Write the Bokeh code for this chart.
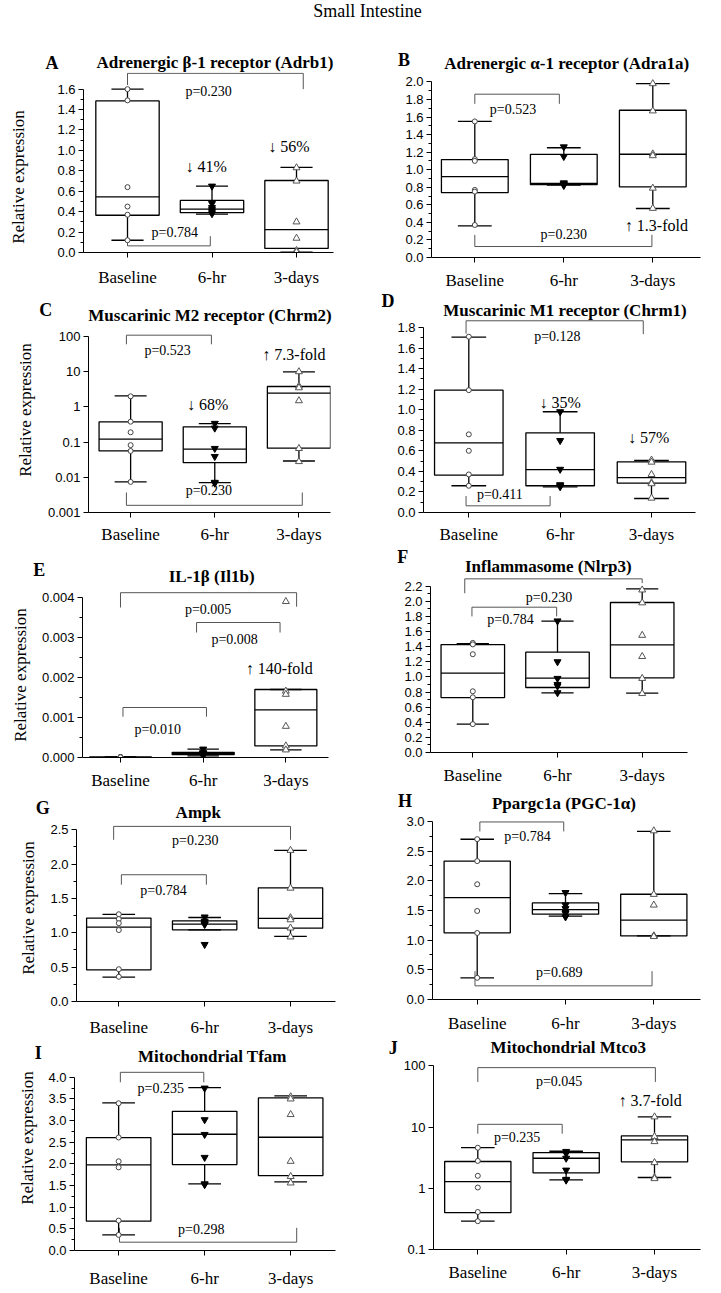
from bokeh.plotting import figure
from bokeh.models import Range1d, FixedTicker, Div, PrintfTickFormatter, CustomJSTickFormatter
from bokeh.layouts import column, row
from bokeh.core.properties import value
from bokeh.embed import file_html
from bokeh.resources import INLINE

GROUPS = ["Baseline", "6-hr", "3-days"]
XPOS = [1, 2, 3]

# ---------------- data ----------------
# A  Adrb1
A_baseline = [1.60, 1.49, 0.64, 0.45, 0.37, 0.12]
A_6hr = [0.65, 0.48, 0.44, 0.42, 0.40, 0.38]
A_3days = [0.83, 0.70, 0.30, 0.14, 0.02, 0.005]
A_lo = [0.12, 0.375, 0.003]
A_q1 = [0.365, 0.39, 0.04]
A_med = [0.545, 0.425, 0.225]
A_q3 = [1.485, 0.51, 0.705]
A_hi = [1.60, 0.65, 0.833]
A_yticks = [0.0, 0.2, 0.4, 0.6, 0.8, 1.0, 1.2, 1.4, 1.6]

# B  Adra1a
B_baseline = [1.55, 1.12, 1.10, 0.77, 0.75, 0.37]
B_6hr = [1.26, 1.15, 0.85, 0.84, 0.83, 0.82]
B_3days = [1.98, 1.67, 1.18, 1.16, 0.79, 0.56]
B_lo = [0.36, 0.825, 0.558]
B_q1 = [0.74, 0.83, 0.805]
B_med = [0.92, 0.845, 1.176]
B_q3 = [1.115, 1.175, 1.677]
B_hi = [1.55, 1.25, 1.98]
B_yticks = [0.0, 0.2, 0.4, 0.6, 0.8, 1.0, 1.2, 1.4, 1.6, 1.8, 2.0]

# C  Chrm2 (log)
C_baseline = [2.0, 0.38, 0.19, 0.082, 0.056, 0.0074]
C_6hr = [0.34, 0.25, 0.066, 0.039, 0.0072, 0.0068]
C_3days = [10.0, 3.9, 3.5, 1.5, 0.066, 0.028]
C_lo = [0.0074, 0.0071, 0.029]
C_q1 = [0.056, 0.026, 0.067]
C_med = [0.121, 0.063, 2.45]
C_q3 = [0.377, 0.272, 3.8]
C_hi = [2.06, 0.337, 9.9]
C_yticks = [0.001, 0.01, 0.1, 1, 10, 100]

# D  Chrm1
D_baseline = [1.71, 1.19, 0.76, 0.60, 0.37, 0.26]
D_6hr = [0.98, 0.70, 0.42, 0.27, 0.26, 0.25]
D_3days = [0.51, 0.49, 0.37, 0.29, 0.28, 0.14]
D_lo = [0.26, 0.25, 0.136]
D_q1 = [0.363, 0.26, 0.285]
D_med = [0.678, 0.418, 0.34]
D_q3 = [1.19, 0.775, 0.493]
D_hi = [1.706, 0.98, 0.506]
D_yticks = [0.0, 0.2, 0.4, 0.6, 0.8, 1.0, 1.2, 1.4, 1.6, 1.8]

# E  Il1b
E_baseline = [0.000012, 0.000010, 0.000009, 0.000007, 0.000006, 0.000005]
E_6hr = [0.00021, 0.00012, 0.00011, 0.00010, 0.00009, 0.00004]
E_3days = [0.0039, 0.00166, 0.00158, 0.00078, 0.00029, 0.00019]
E_lo = [0.000005, 0.00004, 0.00019]
E_q1 = [0.000006, 0.00007, 0.00029]
E_med = [0.000008, 0.0001, 0.00119]
E_q3 = [0.00001, 0.00013, 0.0017]
E_hi = [0.000012, 0.00021, 0.0017]
E_yticks = [0.0, 0.001, 0.002, 0.003, 0.004]

# F  Nlrp3
F_baseline = [1.45, 1.43, 1.30, 0.81, 0.73, 0.375]
F_6hr = [1.74, 1.20, 0.98, 0.90, 0.88, 0.79]
F_3days = [2.15, 1.98, 1.55, 1.27, 0.98, 0.78]
F_lo = [0.375, 0.79, 0.785]
F_q1 = [0.727, 0.86, 0.988]
F_med = [1.05, 0.983, 1.424]
F_q3 = [1.428, 1.327, 1.984]
F_hi = [1.44, 1.737, 2.165]
F_yticks = [0.0, 0.2, 0.4, 0.6, 0.8, 1.0, 1.2, 1.4, 1.6, 1.8, 2.0, 2.2]

# G  Ampk
G_baseline = [1.27, 1.20, 1.14, 1.04, 0.47, 0.36]
G_6hr = [1.23, 1.17, 1.15, 1.13, 1.12, 0.83]
G_3days = [2.20, 1.65, 1.22, 1.19, 1.07, 0.94]
G_lo = [0.354, 1.044, 0.947]
G_q1 = [0.461, 1.044, 1.068]
G_med = [1.083, 1.126, 1.209]
G_q3 = [1.214, 1.175, 1.655]
G_hi = [1.267, 1.223, 2.2]
G_yticks = [0.0, 0.5, 1.0, 1.5, 2.0, 2.5]

# H  Ppargc1a
H_baseline = [2.70, 2.33, 1.94, 1.49, 1.12, 0.365]
H_6hr = [1.80, 1.59, 1.53, 1.48, 1.45, 1.39]
H_3days = [2.84, 1.77, 1.59, 1.07, 1.07, 1.06]
H_lo = [0.365, 1.402, 1.071]
H_q1 = [1.122, 1.436, 1.071]
H_med = [1.716, 1.514, 1.335]
H_q3 = [2.328, 1.626, 1.772]
H_hi = [2.698, 1.784, 2.832]
H_yticks = [0.0, 0.5, 1.0, 1.5, 2.0, 2.5, 3.0]

# I  Tfam
I_baseline = [3.40, 2.61, 2.06, 1.92, 0.69, 0.36]
I_6hr = [3.75, 3.02, 2.68, 2.15, 1.54, 1.52]
I_3days = [3.55, 3.50, 3.14, 2.06, 1.71, 1.56]
I_lo = [0.362, 1.538, 1.585]
I_q1 = [0.677, 1.985, 1.731]
I_med = [1.977, 2.685, 2.615]
I_q3 = [2.608, 3.215, 3.523]
I_hi = [3.408, 3.76, 3.57]
I_yticks = [0.0, 0.5, 1.0, 1.5, 2.0, 2.5, 3.0, 3.5, 4.0]

# J  Mtco3 (log)
J_baseline = [4.6, 2.8, 1.6, 1.03, 0.41, 0.29]
J_6hr = [4.0, 3.7, 3.1, 1.98, 1.4, 1.36]
J_3days = [14.7, 7.0, 5.8, 2.63, 1.5, 1.44]
J_lo = [0.29, 1.37, 1.5]
J_q1 = [0.40, 1.79, 2.7]
J_med = [1.29, 3.1, 6.17]
J_q3 = [2.74, 3.84, 7.18]
J_hi = [4.63, 4.03, 14.7]
J_yticks = [0.1, 1, 10, 100]

# ---------------- styling / layout ----------------
SERIF = "Liberation Serif"
SANS = "Liberation Sans"
BOX_W = 0.75
CAP_W = 0.38
LW = 1.3
BRACKET_COLOR = "#555555"
COL_LEFT = {"L": 8, "R": 360}      # page columns (absolute px)
COL_W = {"L": 352, "R": 353}
FONT_CSS = "font-family:'Liberation Serif';color:#000;white-space:nowrap;"


def hspan(text, cx, cy, size, box_w, box_h, weight="normal", lh=None):
    lh = lh or size
    w = 2 * min(cx, box_w - cx)
    top = max(0.0, min(cy - lh / 2.0, box_h - lh))
    return ('<div style="position:absolute;left:%.1fpx;top:%.1fpx;width:%.1fpx;height:%dpx;'
            'line-height:%dpx;text-align:center;font-size:%dpx;font-weight:%s;%s">%s</div>'
            % (cx - w / 2.0, top, w, lh, lh, size, weight, FONT_CSS, text))


def vspan(text, cx, cy, size):
    return ('<span style="position:absolute;left:%.1fpx;top:%.1fpx;'
            'transform:translate(-50%%,-50%%) rotate(-90deg);line-height:%dpx;'
            'font-size:%dpx;%s">%s</span>' % (cx, cy, size, size, FONT_CSS, text))


def box_div(w, h, inner):
    return Div(text='<div style="position:relative;width:%dpx;height:%dpx;">%s</div>'
               % (w, h, "".join(inner)), width=w, height=h, margin=0)


def make_fig(w, h, mb, xr, yr, log, yticks, fmt, xstand, pts, lo, q1, med, q3, hi,
             brackets, texts):
    p = figure(width=w, height=h, min_border_left=mb[0], min_border_right=mb[1],
               min_border_top=mb[2], min_border_bottom=mb[3],
               x_range=Range1d(*xr), y_range=Range1d(*yr),
               y_axis_type="log" if log else "linear",
               output_backend="svg", toolbar_location=None, margin=0)
    p.outline_line_color = None
    p.grid.visible = False
    p.background_fill_color = None
    p.border_fill_color = None

    xa = p.xaxis[0]
    xa.ticker = FixedTicker(ticks=XPOS, minor_ticks=[])
    xa.major_label_overrides = {x: g for x, g in zip(XPOS, GROUPS)}
    xa.major_label_text_font = SERIF
    xa.major_label_text_font_size = "17px"
    xa.major_label_text_color = "black"
    xa.major_tick_in = 0
    xa.major_tick_out = 5
    xa.major_label_standoff = xstand
    xa.axis_line_color = "black"
    xa.major_tick_line_color = "black"

    ya = p.yaxis[0]
    if log:
        ya.ticker = FixedTicker(ticks=yticks, minor_ticks=[])
        ya.formatter = CustomJSTickFormatter(code="return tick.toString();")
    else:
        step = yticks[1] - yticks[0]
        minors = [yticks[0] + step * (k + 0.5) for k in range(len(yticks) - 1)]
        ya.ticker = FixedTicker(ticks=yticks, minor_ticks=minors)
        ya.formatter = PrintfTickFormatter(format=fmt)
    ya.bounds = (yticks[0], yticks[-1])
    ya.major_label_text_font = SANS
    ya.major_label_text_font_size = "13px"
    ya.major_label_text_color = "black"
    ya.major_tick_in = 0
    ya.major_tick_out = 5
    ya.minor_tick_in = 0
    ya.minor_tick_out = 3
    ya.major_label_standoff = 3
    ya.axis_line_color = "black"
    ya.major_tick_line_color = "black"
    ya.minor_tick_line_color = "black"

    bx0, by0, bx1, by1 = [], [], [], []
    for (x1, x2, yb, yl1, yl2) in brackets:
        bx0 += [x1, x1, x2]
        by0 += [yb, yb, yb]
        bx1 += [x2, x1, x2]
        by1 += [yb, yl1, yl2]
    p.segment(bx0, by0, bx1, by1, line_color=BRACKET_COLOR, line_width=1)

    p.vbar(x=XPOS, width=BOX_W, bottom=q1, top=q3, fill_color="white",
           line_color="black", line_width=LW)
    xl = [x - BOX_W / 2 for x in XPOS]
    xr_ = [x + BOX_W / 2 for x in XPOS]
    p.segment(xl, med, xr_, med, line_color="black", line_width=LW)
    p.segment(XPOS, q3, XPOS, hi, line_color="black", line_width=LW)
    p.segment(XPOS, q1, XPOS, lo, line_color="black", line_width=LW)
    cl = [x - CAP_W / 2 for x in XPOS]
    cr = [x + CAP_W / 2 for x in XPOS]
    p.segment(cl, hi, cr, hi, line_color="black", line_width=LW)
    p.segment(cl, lo, cr, lo, line_color="black", line_width=LW)

    base, six, three = pts
    p.scatter([1] * len(base), base, marker="circle", size=5, fill_color="white",
              line_color="#444444", line_width=1)
    p.scatter([2] * len(six), six, marker="inverted_triangle", size=7,
              fill_color="black", line_color="black", line_width=1)
    p.scatter([3] * len(three), three, marker="triangle", size=7,
              fill_color="white", line_color="#555555", line_width=1)

    for (txt, tx, ty, big) in texts:
        p.text(x=[tx], y=[ty], text=[txt], text_font=value(SERIF),
               text_font_size="16px" if big else "14px", text_color="black",
               text_align="center", text_baseline="middle")
    return p


def panel(side, row_top, row_h, fig_top, letter, letter_c, title, title_c,
          frame, cats, ycal, log, yticks, fmt, xstand, pts, lo, q1, med, q3, hi,
          brackets, texts, ylabel=None):
    """frame = (left, right, bottom) in absolute page px; the frame top is the figure top."""
    col_left, col_w = COL_LEFT[side], COL_W[side]
    t = fig_top - row_top
    fig_h = row_h - t
    a = ylabel[2] if ylabel else 0
    fig_left = col_left + a
    fig_w = col_w - a
    L, R, B = frame
    mb = (L - fig_left, fig_left + fig_w - R, 0, fig_top + fig_h - B)
    c1, c3 = cats
    sp = (c3 - c1) / 2.0
    xr = (1 - (c1 - L) / sp, 1 + (R - c1) / sp)
    y0, scale = ycal
    if log:
        yr = (y0, y0 * 10 ** ((B - fig_top) / scale))
    else:
        yr = (y0, y0 + (B - fig_top) / scale)
    p = make_fig(fig_w, fig_h, mb, xr, yr, log, yticks, fmt, xstand, pts, lo, q1, med, q3, hi,
                 brackets, texts)
    head = box_div(col_w, t, [
        hspan(letter, letter_c[0] - col_left, letter_c[1] - row_top, 18, col_w, t, "bold"),
        hspan(title, title_c[0] - col_left, title_c[1] - row_top, 17, col_w, t, "bold"),
    ])
    if ylabel:
        yl = box_div(a, fig_h, [vspan("Relative expression", ylabel[0] - col_left,
                                      ylabel[1] - fig_top, 17)])
        return column(head, row(yl, p, spacing=0, margin=0), spacing=0, margin=0)
    return column(head, p, spacing=0, margin=0)


R1, R2, R3, R4, R5 = (44, 248), (292, 254), (546, 246), (792, 247), (1039, 254)

pA = panel("L", *R1, 72, "A", (52, 63), "Adrenergic \u03b2-1 receptor (Adrb1)", (215, 62),
           (83, 333, 252), (127, 296), (0, 102.1), False, A_yticks, "%.1f", 10,
           (A_baseline, A_6hr, A_3days), A_lo, A_q1, A_med, A_q3, A_hi,
           [(1.0, 3.08, 1.755, 1.64, 1.60), (1.0, 1.98, 0.065, 0.16, 0.16)],
           [("p=0.230", 1.96, 1.574, False), ("p=0.784", 1.56, 0.193, False),
            ("\u2193 41%", 1.93, 0.84, True), ("\u2193 56%", 2.91, 1.04, True)],
           ylabel=(18, 177, 30))

pB = panel("R", *R1, 72, "B", (404, 60), "Adrenergic \u03b1-1 receptor (Adra1a)", (566.7, 66),
           (431, 700, 257), (474.3, 652.3), (0, 87.8), False, B_yticks, "%.1f", 8,
           (B_baseline, B_6hr, B_3days), B_lo, B_q1, B_med, B_q3, B_hi,
           [(1.0, 1.95, 1.86, 1.75, 1.75), (1.0, 2.99, 0.125, 0.258, 0.258)],
           [("p=0.523", 1.43, 1.69, False), ("p=0.230", 2.0, 0.265, False),
            ("\u2191 1.3-fold", 3.04, 0.36, True)])

pC = panel("L", *R2, 326, "C", (45.7, 310), "Muscarinic M2 receptor (Chrm2)", (210, 315),
           (87, 330, 512), (129.3, 298.3), (0.001, 35.2), True, C_yticks, None, 7,
           (C_baseline, C_6hr, C_3days), C_lo, C_q1, C_med, C_q3, C_hi,
           [(0.95, 1.96, 109, 60, 60), (0.95, 3.04, 0.0016, 0.0037, 0.0037)],
           [("p=0.523", 1.44, 39, False), ("p=0.230", 1.93, 0.0041, False),
            ("\u2193 68%", 1.915, 1.2, True), ("\u2191 7.3-fold", 2.94, 31.5, True)],
           ylabel=(25, 410, 36))

pD = panel("R", *R2, 319, "D", (388, 301), "Muscarinic M1 receptor (Chrm1)", (565, 310),
           (423, 695, 512), (468.3, 651), (0, 102.8), False, D_yticks, "%.1f", 7,
           (D_baseline, D_6hr, D_3days), D_lo, D_q1, D_med, D_q3, D_hi,
           [(0.97, 2.91, 1.865, 1.74, 1.735), (0.97, 1.89, 0.065, 0.16, 0.16)],
           [("p=0.128", 1.97, 1.71, False), ("p=0.411", 1.34, 0.178, False),
            ("\u2193 35%", 2.0, 1.07, True), ("\u2193 57%", 2.97, 0.73, True)])

pE = panel("L", *R3, 588, "E", (39.3, 570), "IL-1\u03b2 (Il1b)", (211.7, 576.7),
           (80, 328, 757), (118.3, 285), (0, 40000.0), False, E_yticks, "%.3f", 8,
           (E_baseline, E_6hr, E_3days), E_lo, E_q1, E_med, E_q3, E_hi,
           [(1.0, 3.13, 0.00412, 0.00375, 0.00377), (1.92, 2.93, 0.003375, 0.003125, 0.003125),
            (1.03, 2.04, 0.00125, 0.00102, 0.00102)],
           [("p=0.005", 2.06, 0.00369, False), ("p=0.008", 2.38, 0.00296, False),
            ("p=0.010", 1.45, 0.00071, False), ("\u2191 140-fold", 2.92, 0.00223, True)],
           ylabel=(20, 675, 30))

pF = panel("R", *R3, 577, "F", (402.7, 556.7), "Inflammasome (Nlrp3)", (548.3, 566.7),
           (430, 687, 752), (472.3, 641.7), (0, 75.6), False, F_yticks, "%.1f", 8,
           (F_baseline, F_6hr, F_3days), F_lo, F_q1, F_med, F_q3, F_hi,
           [(0.905, 3.0, 2.297, 2.107, 2.24), (0.99, 1.99, 1.922, 1.80, 1.80)],
           [("p=0.230", 1.9, 2.046, False), ("p=0.784", 1.445, 1.755, False)])

pG = panel("L", *R4, 821, "G", (42.7, 808.3), "Ampk", (198.3, 814.5),
           (76, 335, 1001), (118.3, 290), (0, 68.7), False, G_yticks, "%.1f", 11,
           (G_baseline, G_6hr, G_3days), G_lo, G_q1, G_med, G_q3, G_hi,
           [(0.94, 3.0, 2.549, 2.354, 2.354), (1.03, 2.02, 1.845, 1.70, 1.70)],
           [("p=0.230", 1.89, 2.345, False), ("p=0.784", 1.52, 1.617, False)],
           ylabel=(28, 908, 38))

pH = panel("R", *R4, 812, "H", (405, 800.5), "Ppargc1a (PGC-1\u03b1)", (564, 806),
           (432, 700, 999), (476.7, 653.3), (0, 59.4), False, H_yticks, "%.1f", 9,
           (H_baseline, H_6hr, H_3days), H_lo, H_q1, H_med, H_q3, H_hi,
           [(1.03, 1.98, 2.989, 2.83, 2.83), (0.975, 2.98, 0.23, 0.477, 0.477)],
           [("p=0.784", 1.57, 2.737, False), ("p=0.689", 1.93, 0.449, False)])

pI = panel("L", *R5, 1068, "I", (38.3, 1053.3), "Mitochondrial Tfam", (212.3, 1056.7),
           (73, 335, 1250), (117.3, 290), (0, 43.3), False, I_yticks, "%.1f", 13,
           (I_baseline, I_6hr, I_3days), I_lo, I_q1, I_med, I_q3, I_hi,
           [(1.02, 1.99, 4.115, 3.885, 3.885), (1.01, 3.07, 0.192, 0.523, 0.523)],
           [("p=0.235", 1.49, 3.746, False), ("p=0.298", 1.96, 0.485, False)],
           ylabel=(26.7, 1138, 37))

pJ = panel("R", *R5, 1056, "J", (393.3, 1049.5), "Mitochondrial Mtco3", (568.3, 1049.5),
           (433, 700, 1249), (477.3, 654), (0.1, 61.2), True, J_yticks, None, 8,
           (J_baseline, J_6hr, J_3days), J_lo, J_q1, J_med, J_q3, J_hi,
           [(1.0, 3.01, 93.7, 54.7, 54.7), (1.0, 1.955, 11.1, 7.8, 7.8)],
           [("p=0.045", 1.92, 54.7, False), ("p=0.235", 1.445, 6.75, False),
            ("\u2191 3.7-fold", 2.95, 26.8, True)])

header = box_div(705, 44, [hspan("Small Intestine", 359.5, 11.5, 18, 705, 44, lh=21)])

layout = column(header,
                row(pA, pB, spacing=0, margin=0), row(pC, pD, spacing=0, margin=0),
                row(pE, pF, spacing=0, margin=0), row(pG, pH, spacing=0, margin=0),
                row(pI, pJ, spacing=0, margin=0), spacing=0, margin=(0, 0, 0, 8))

open("out.html", "w").write(file_html(layout, INLINE))
